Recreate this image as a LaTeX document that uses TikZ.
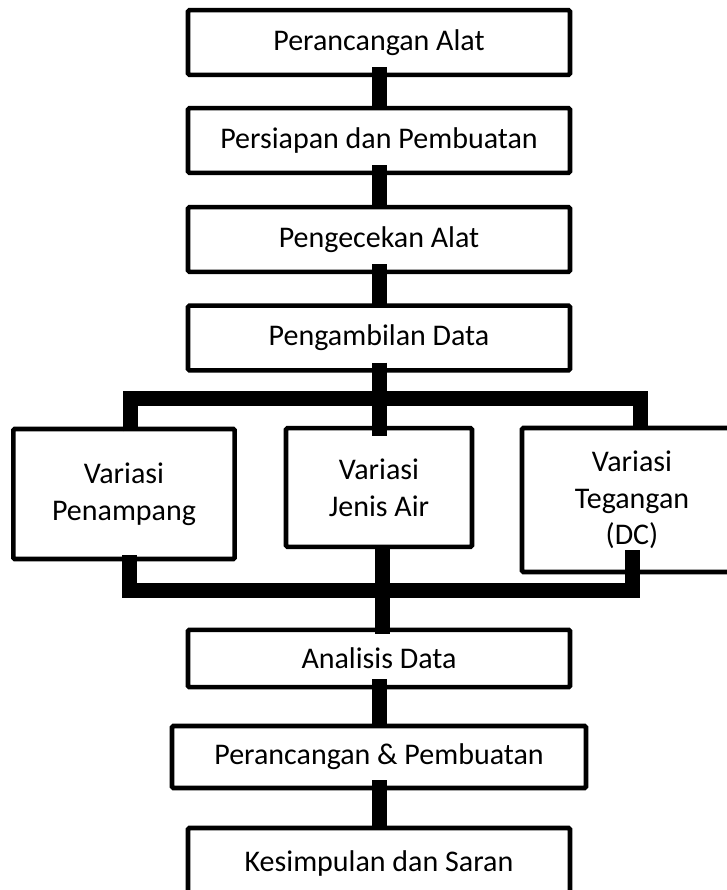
\documentclass[tikz,border=0pt]{standalone}
\usepackage{fontspec}
\setmainfont{Carlito}
\usepackage{tikz}

\tikzset{
  proses/.style={draw, line width=3.4pt, rounded corners=1pt, align=center, inner sep=0pt,
    minimum width=286.5pt, minimum height=48.5pt, font=\fontsize{22.5}{27.5}\selectfont},
  bar/.style={line width=11.25pt, line join=miter},
}

\begin{document}
\begin{tikzpicture}[x=0.75pt, y=-0.75pt]
    \useasboundingbox (0,0) rectangle (726,890);

    %% main steps
    \node[proses] (alat)  at (379,42.5)  {Perancangan Alat};
    \node[proses] (siap)  at (379,140.5) {Persiapan dan Pembuatan};
    \node[proses] (cek)   at (379,239.5) {Pengecekan Alat};
    \node[proses] (ambil) at (379,338)   {Pengambilan Data};

    %% variations
    \node[proses, minimum width=166pt, minimum height=97.5pt] (penampang) at (124,494) {Variasi\\Penampang};
    \node[proses, minimum width=139.5pt, minimum height=89pt] (air) at (379,487.5) {Variasi\\Jenis Air};
    \node[proses, minimum width=165pt, minimum height=108pt] (tegangan) at (632,500) {Variasi\\Tegangan\\(DC)};

    \node[proses, minimum height=43pt] (analisis) at (379,658.5) {Analisis Data};
    \node[proses, minimum width=310.5pt, minimum height=46.5pt] (buat) at (379,757) {Perancangan \& Pembuatan};
    \node[proses, minimum height=52.5pt] (simpul) at (379,863) {Kesimpulan dan Saran};

    \coordinate (atas)  at (379,398.5);
    \coordinate (bawah) at (379,590);

    %% connectors
    \foreach \a/\b in {alat/siap, siap/cek, cek/ambil, analisis/buat, buat/simpul}
        \draw[bar] ([yshift=7.5pt]\a.south) -- ([yshift=-1.5pt]\b.north);

    \draw[bar] ([yshift=7.5pt]ambil.south) -- ([yshift=-7.5pt]air.north);
    \draw[bar] ([xshift=4.5pt,yshift=-3.5pt]penampang.north) |- (atas) -| ([xshift=6pt,yshift=-3.5pt]tegangan.north);
    \draw[bar] ([xshift=4pt,yshift=4.5pt]penampang.south) |- (bawah) -| ([yshift=18pt]tegangan.south);
    \draw[bar] ([xshift=2.5pt,yshift=3pt]air.south) -- ([xshift=2.5pt,yshift=-5pt]analisis.north);

\end{tikzpicture}
\end{document}
